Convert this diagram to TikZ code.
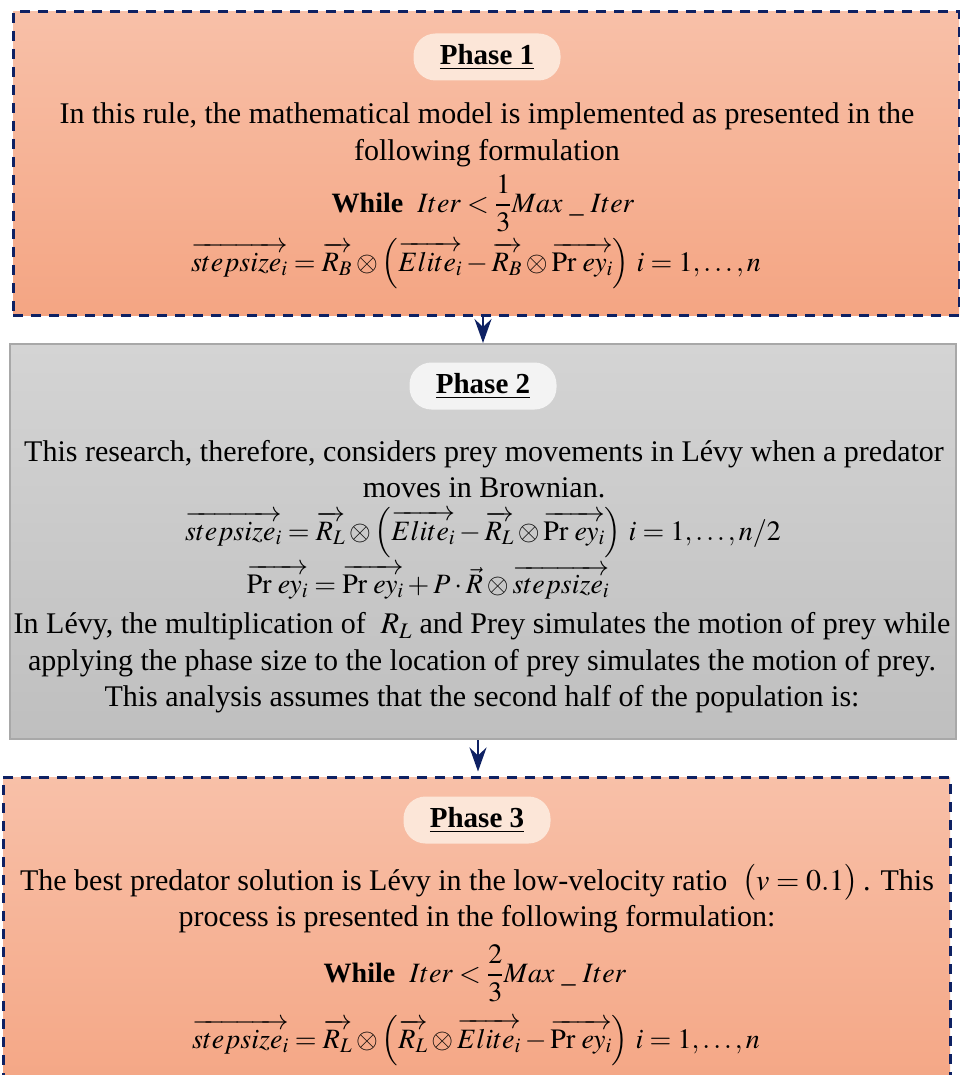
\documentclass[tikz,border=0pt]{standalone}
\usepackage{amsmath}
\usepackage{mathptmx}
\usepackage{fontspec}
\setmainfont{Liberation Serif}
\usetikzlibrary{arrows.meta}
\definecolor{navy}{HTML}{0E2163}
\definecolor{orTop}{HTML}{F8C0A8}
\definecolor{orBot}{HTML}{F4A583}
\definecolor{grTop}{HTML}{D4D4D4}
\definecolor{grBot}{HTML}{BFBFBF}
\definecolor{grEdge}{HTML}{A8A8A8}
\definecolor{pillOr}{HTML}{FCE6D8}
\definecolor{pillGr}{HTML}{F3F3F3}
\tikzset{
  orbox/.style={draw=navy, line width=3pt, dash pattern=on 10pt off 8pt,
    top color=orTop, bottom color=orBot, inner sep=0pt},
  grbox/.style={draw=grEdge, line width=2pt, top color=grTop, bottom color=grBot, inner sep=0pt},
  pill/.style={rounded corners=22pt, minimum width=147pt, minimum height=47pt,
    font=\fontsize{29}{32}\selectfont\bfseries, inner sep=0pt},
  body/.style={align=center, font=\fontsize{30}{36.5}\selectfont, inner sep=0pt},
  eq/.style={align=center, font=\fontsize{28}{34}\selectfont, inner sep=0pt},
  arr/.style={draw=navy, line width=2.5pt, -{Stealth[length=24pt,width=17pt,inset=8pt]}}
}
\newcommand{\Prey}{\overrightarrow{\mathrm{Pr}\;ey_i}}
\begin{document}
\begin{tikzpicture}[x=1pt,y=-1pt]
\clip (0,0) rectangle (960,1075);
\fill[white] (0,0) rectangle (960,1075);
% boxes
\node[orbox, minimum width=946pt, minimum height=303pt] (b1) at (486,163.5) {};
\node[grbox, minimum width=946pt, minimum height=395pt] (b2) at (483,541.5) {};
\node[orbox, minimum width=947pt, minimum height=330pt] (b3) at (476.5,942) {};
% phase 1
\node[pill, fill=pillOr] (p1) at (487,57) {\underline{Phase 1}};
\node[body] (t1) at (487,135) {In this rule, the mathematical model is implemented as presented in the\\ following formulation};
\node[eq] (w1) at (483,203) {\textbf{While}\ \ $Iter<\dfrac{1}{3}Max\ \_\ Iter$};
\node[eq] (f1) at (476,264) {$\overrightarrow{stepsize_i}=\overrightarrow{R_B}\otimes\Bigl(\overrightarrow{Elite_i}-\overrightarrow{R_B}\otimes\Prey\Bigr)\ i=1,\ldots,n$};
% phase 2
\node[pill, fill=pillGr] (p2) at (483,386) {\underline{Phase 2}};
\node[body] (t2) at (484,469) {This research, therefore, considers prey movements in Lévy when a predator\\ moves in Brownian.};
\node[eq] (f2) at (483,533) {$\overrightarrow{stepsize_i}=\overrightarrow{R_L}\otimes\Bigl(\overrightarrow{Elite_i}-\overrightarrow{R_L}\otimes\Prey\Bigr)\ i=1,\ldots,n/2$};
\node[eq] (f3) at (428,582) {$\Prey=\Prey+P\cdot\vec{R}\otimes\overrightarrow{stepsize_i}$};
\node[body] (t3) at (482,663) {In Lévy, the multiplication of \ $R_L$ and Prey simulates the motion of prey while\\ applying the phase size to the location of prey simulates the motion of prey.\\ This analysis assumes that the second half of the population is:};
% phase 3
\node[pill, fill=pillOr] (p3) at (477,820) {\underline{Phase 3}};
\node[body] (t4) at (477,899) {The best predator solution is Lévy in the low-velocity ratio \ $\bigl(v=0.1\bigr)$\,. This\\ process is presented in the following formulation:};
\node[eq] (w3) at (475,973) {\textbf{While}\ \ $Iter<\dfrac{2}{3}Max\ \_\ Iter$};
\node[eq] (f4) at (476,1041) {$\overrightarrow{stepsize_i}=\overrightarrow{R_L}\otimes\Bigl(\overrightarrow{R_L}\otimes\overrightarrow{Elite_i}-\Prey\Bigr)\ i=1,\ldots,n$};
% connectors
\draw[arr] (b1.south -| b2.north) -- (b2.north);
\draw[arr] ([xshift=1.5pt]b2.south -| b3.north) -- ([xshift=1.5pt,yshift=4pt]b3.north);
\end{tikzpicture}
\end{document}
